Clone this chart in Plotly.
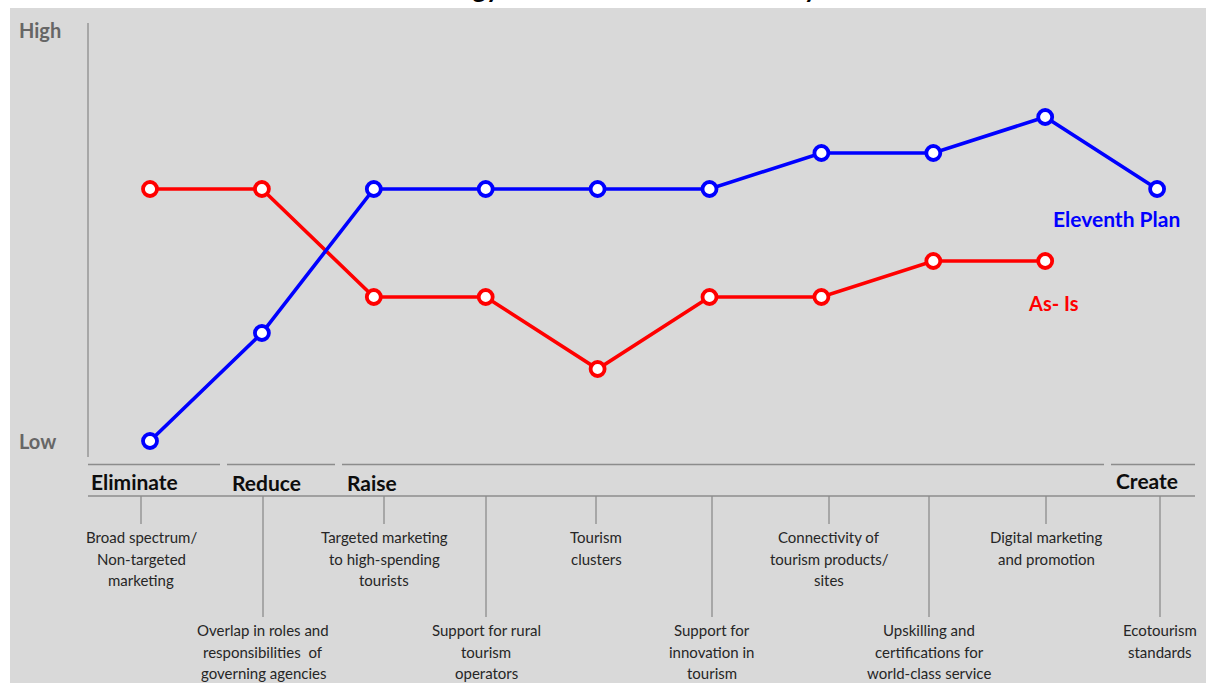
import plotly.graph_objects as go

# ---- data -------------------------------------------------------------
factors = [
    "Broad spectrum/<br>Non-targeted<br>marketing",
    "Overlap in roles and<br>responsibilities  of<br>governing agencies",
    "Targeted marketing<br>to high-spending<br>tourists",
    "Support for rural<br>tourism<br>operators",
    "Tourism<br>clusters",
    "Support for<br>innovation in<br>tourism",
    "Connectivity of<br>tourism products/<br>sites",
    "Upskilling and<br>certifications for<br>world-class service",
    "Digital marketing<br>and promotion",
    "Ecotourism<br>standards",
]
eleventh_plan = [0, 3, 7, 7, 7, 7, 8, 8, 9, 7]
as_is = [7, 7, 4, 4, 2, 4, 4, 5, 5, None]

actions = ["Eliminate", "Reduce", "Raise", "Create"]

title_text = "Strategy Canvas of Tourism Industry"

# ---- page geometry (pixels) --------------------------------------------
W, H = 1206, 683
X0, DX = 150.0, 111.9      # pixel of factor 0, spacing between factors
Y0, DY = 441.0, 36.0       # pixel of score 0, pixels per score unit


def fx(p):
    return p / W


def fy(p):
    return 1 - p / H


idx = list(range(len(factors)))

fig = go.Figure()

fig.add_trace(go.Scatter(
    x=idx, y=as_is, mode="lines+markers", name="As- Is",
    line=dict(color="#ff0000", width=3.6),
    marker=dict(symbol="circle", size=14, color="white",
                line=dict(color="#ff0000", width=3.8)),
    cliponaxis=False, showlegend=False,
))
fig.add_trace(go.Scatter(
    x=idx, y=eleventh_plan, mode="lines+markers", name="Eleventh Plan",
    line=dict(color="#0000ff", width=3.6),
    marker=dict(symbol="circle", size=14, color="white",
                line=dict(color="#0000ff", width=3.8)),
    cliponaxis=False, showlegend=False,
))

shapes = []
# grey canvas
shapes.append(dict(type="rect", xref="paper", yref="paper",
                   x0=fx(10), x1=1, y0=0, y1=fy(8),
                   fillcolor="#d9d9d9", line=dict(width=0), layer="below"))
# vertical value axis
shapes.append(dict(type="line", xref="paper", yref="paper",
                   x0=fx(88), x1=fx(88), y0=fy(23), y1=fy(457),
                   line=dict(color="#8c8c8c", width=1.3)))

# action group rules above headers
group_px = [(88, 220), (227, 335), (342, 1104), (1111, 1195)]
for a, b in group_px:
    shapes.append(dict(type="line", xref="paper", yref="paper",
                       x0=fx(a), x1=fx(b), y0=fy(464.5), y1=fy(464.5),
                       line=dict(color="#8c8c8c", width=1.5)))
# baseline under headers
shapes.append(dict(type="line", xref="paper", yref="paper",
                   x0=fx(88), x1=fx(1195), y0=fy(496), y1=fy(496),
                   line=dict(color="#8c8c8c", width=1.5)))

# leader ticks and factor labels
label_px = [141, 263, 384, 486, 596, 712, 829, 929, 1046, 1160]
annotations = []
for i, txt in enumerate(factors):
    lower = i % 2 == 1
    xp = label_px[i]
    shapes.append(dict(type="line", xref="paper", yref="paper",
                       x0=fx(xp), x1=fx(xp), y0=fy(496),
                       y1=fy(617 if lower else 524),
                       line=dict(color="#8c8c8c", width=1.3)))
    first_line = 630 if lower else 537
    for k, line in enumerate(txt.split("<br>")):
        annotations.append(dict(
            xref="paper", yref="paper", x=fx(xp), y=fy(first_line + 21.5 * k),
            xanchor="center", yanchor="middle", showarrow=False, text=line,
            font=dict(family="Lato", size=15, color="#262626")))

# action headers
header_px = [(89, 481), (230, 482), (345, 482), (1114, 480)]
for name, (xp, yp) in zip(actions, header_px):
    annotations.append(dict(
        xref="paper", yref="paper", x=fx(xp), y=fy(yp),
        xanchor="left", yanchor="middle", showarrow=False,
        text=f"<b>{name}</b>",
        font=dict(family="Lato", size=21, color="#0d0d0d")))

# value axis labels
annotations.append(dict(xref="paper", yref="paper", x=fx(17), y=fy(30),
                        xanchor="left", yanchor="middle", showarrow=False,
                        text="<b>High</b>",
                        font=dict(family="Lato", size=20, color="#666666")))
annotations.append(dict(xref="paper", yref="paper", x=fx(17), y=fy(441),
                        xanchor="left", yanchor="middle", showarrow=False,
                        text="<b>Low</b>",
                        font=dict(family="Lato", size=20, color="#666666")))

# series labels
annotations.append(dict(xref="paper", yref="paper", x=fx(1116), y=fy(218),
                        xanchor="center", yanchor="middle", showarrow=False,
                        text="<b>Eleventh Plan</b>",
                        font=dict(family="Lato", size=21, color="#0000ff")))
annotations.append(dict(xref="paper", yref="paper", x=fx(1053), y=fy(303),
                        xanchor="center", yanchor="middle", showarrow=False,
                        text="<b>As- Is</b>",
                        font=dict(family="Lato", size=20, color="#ff0000")))

# chart title (sits at the very top edge of the page)
annotations.append(dict(xref="paper", yref="paper", x=fx(610), y=fy(-12),
                        xanchor="center", yanchor="middle", showarrow=False,
                        text=f"<b>{title_text}</b>",
                        font=dict(family="Lato", size=26, color="#000000")))

fig.update_layout(
    width=W, height=H,
    margin=dict(l=0, r=0, t=0, b=0),
    paper_bgcolor="white", plot_bgcolor="rgba(0,0,0,0)",
    xaxis=dict(range=[(0 - X0) / DX, (W - X0) / DX], visible=False,
               fixedrange=True),
    yaxis=dict(range=[(Y0 - H) / DY, Y0 / DY], visible=False,
               fixedrange=True),
    shapes=shapes, annotations=annotations,
)

fig.write_html("out.html")
